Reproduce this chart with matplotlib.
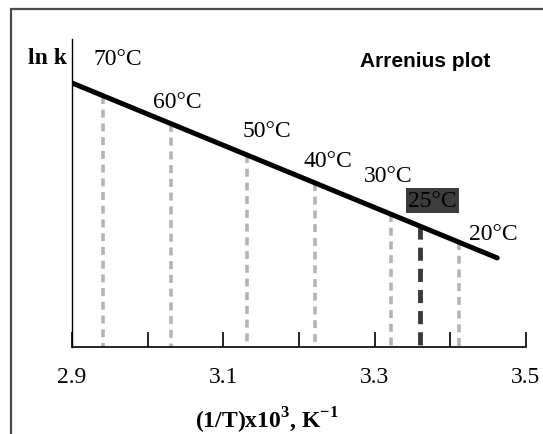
import numpy as np
import matplotlib
matplotlib.use("Agg")
import matplotlib.pyplot as plt

plt.rcParams["mathtext.fontset"] = "custom"
plt.rcParams["mathtext.rm"] = "Liberation Serif"
plt.rcParams["mathtext.bf"] = "Liberation Serif:bold"

# straight ln k line (arbitrary ln k units, axis has no y ticks)
line_x = [2.9, 3.462]
line_lnk = [8.57, 2.88]

# temperature markers
temps = ["70°C", "60°C", "50°C", "40°C", "30°C", "25°C", "20°C"]
inv_t = [2.941, 3.031, 3.131, 3.221, 3.321, 3.360, 3.411]
label_x = [2.928, 3.007, 3.126, 3.206, 3.286, 3.344, 3.425]
label_y = [9.19, 7.79, 6.84, 5.87, 5.38, 4.57, 3.50]
highlight = "25°C"

major_ticks = [2.9, 3.1, 3.3, 3.5]
minor_ticks = [3.0, 3.2, 3.4]

serif = ["Liberation Serif", "DejaVu Serif"]

fig = plt.figure(figsize=(5.43, 4.35), dpi=100)
ax = fig.add_axes([72 / 543, 1 - 347.5 / 435, 454 / 543, 307.5 / 435])

# frame around the picture (only top and left edges are visible)
frame = plt.Rectangle((11 / 543, -0.2), 1.5, 1.2 - 10 / 435, transform=fig.transFigure,
                      fill=False, edgecolor="#4a4a4a", linewidth=1.6, clip_on=False)
fig.add_artist(frame)

# dashed drop lines from the ln k line to the axis
for t, x in zip(temps, inv_t):
    top = np.interp(x, line_x, line_lnk)
    if t == highlight:
        ax.plot([x, x], [top, 0], color="#3a3a3a", lw=3.5,
                linestyle=(0, (2.7, 1.65)), solid_capstyle="butt", zorder=2)
    else:
        ax.plot([x, x], [top, 0], color="#b4b4b4", lw=2.6,
                linestyle=(0, (2.2, 1.6)), zorder=2)

ax.plot(line_x, line_lnk, color="black", lw=3.6, solid_capstyle="round", zorder=3)

for t, x, y in zip(temps, label_x, label_y):
    if t == highlight:
        ax.text(x, y, t, fontsize=17, family=serif, color="black", ha="left", va="baseline",
                bbox=dict(facecolor="#3c3c3c", edgecolor="none", pad=1.5), zorder=4)
    else:
        ax.text(x, y, t, fontsize=17, family=serif, color="black", ha="left", va="baseline")

ax.text(2.842, 9.22, "ln k", fontsize=17, family=serif, fontweight="bold", ha="left", va="baseline")
ax.text(3.280, 9.12, "Arrenius plot", fontsize=15, family=["Liberation Sans", "DejaVu Sans"],
        fontweight="bold", ha="left", va="baseline")

ax.set_xlim(2.9, 3.5)
ax.set_ylim(0, 10)
ax.set_xticks(major_ticks)
ax.set_xticks(minor_ticks, minor=True)
ax.set_xticklabels([f"{v:.1f}" for v in major_ticks], fontsize=17, family=serif)
ax.tick_params(axis="x", which="both", direction="in", length=11, width=1.2, pad=14)
ax.set_yticks([])

for s in ["top", "right"]:
    ax.spines[s].set_visible(False)
ax.spines["left"].set_linewidth(1.0)
ax.spines["bottom"].set_linewidth(1.2)

ax.set_xlabel(r"(1/T)x10$^{\mathbf{3}}$, K$^{\mathbf{-1}}$", fontsize=17, family=serif,
              fontweight="bold")
ax.xaxis.set_label_coords(0.43, -0.188)

fig.savefig("out.png", dpi=100)
